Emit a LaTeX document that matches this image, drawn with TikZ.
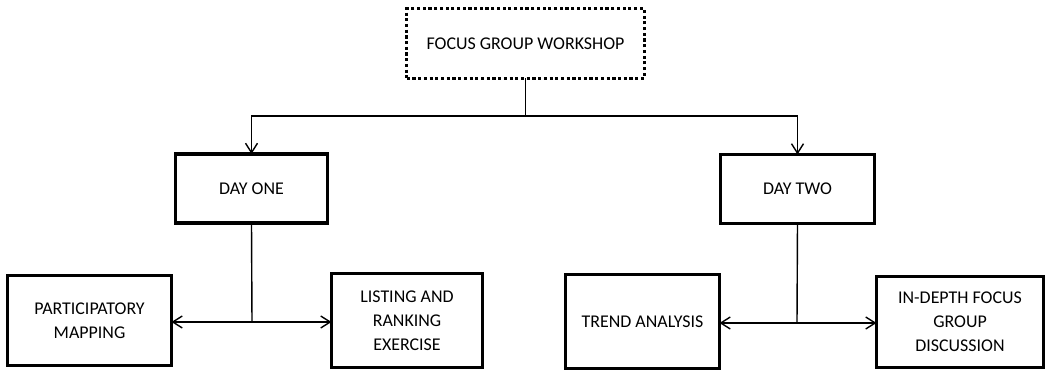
\documentclass[tikz,border=0pt]{standalone}
\usepackage{fontspec}
\setmainfont{Carlito}
\usetikzlibrary{arrows.meta}

\begin{document}
\begin{tikzpicture}[x=0.02cm, y=-0.02cm,
  every node/.style={font=\fontsize{10.2pt}{13.7pt}\selectfont},
  box/.style={rectangle, draw, line width=1.75pt, inner sep=0pt, outer sep=0pt, align=center, minimum width=#1},
  box/.default=3.04cm,
  dotbox/.style={rectangle, draw, line width=1.8pt, dash pattern=on 1.8pt off 1.45pt, inner sep=0pt, outer sep=0pt, align=center},
  conn/.style={line width=0.8pt},
  arr/.style={conn, -{Straight Barb[length=0.19cm, width=0.24cm]}},
]
  \useasboundingbox (0,0) rectangle (1046,374);

  % Top
  \node[dotbox, minimum width=4.75cm, minimum height=1.39cm] (focus) at (525.5,43.5) {FOCUS GROUP WORKSHOP};

  % Days
  \node[box, minimum height=1.38cm] (dayone) at (251.5,188.5) {DAY ONE};
  \node[box=3.08cm, minimum height=1.38cm] (daytwo) at (797.5,189) {DAY TWO};

  % Activities
  \node[box=3.28cm, minimum height=1.80cm] (partmap) at (89.5,320.5) {PARTICIPATORY\\MAPPING};
  \node[box=3.02cm, minimum height=1.88cm] (listing) at (407,320.5) {LISTING AND\\RANKING\\EXERCISE};
  \node[box=3.08cm, minimum height=1.88cm] (trend) at (642.5,321.5) {TREND ANALYSIS};
  \node[box=3.34cm, minimum height=1.82cm] (indepth) at (960,322) {IN-DEPTH FOCUS\\GROUP\\DISCUSSION};

  % Branch points
  \coordinate (split) at (525.5,116);
  \coordinate (mid1) at (252,322);
  \coordinate (mid2) at (797,323);

  % Arrows
  \draw[conn] (focus.south) -- (split);
  \draw[arr] (split) -| (dayone.north);
  \draw[arr] (split) -| (daytwo.north);

  \draw[conn] (dayone.south) -- (mid1);
  \draw[arr] (mid1) -- (mid1 -| partmap.east);
  \draw[arr] (mid1) -- (mid1 -| listing.west);

  \draw[conn] (daytwo.south) -- (mid2);
  \draw[arr] (mid2) -- (mid2 -| trend.east);
  \draw[arr] (mid2) -- (mid2 -| indepth.west);

\end{tikzpicture}
\end{document}
